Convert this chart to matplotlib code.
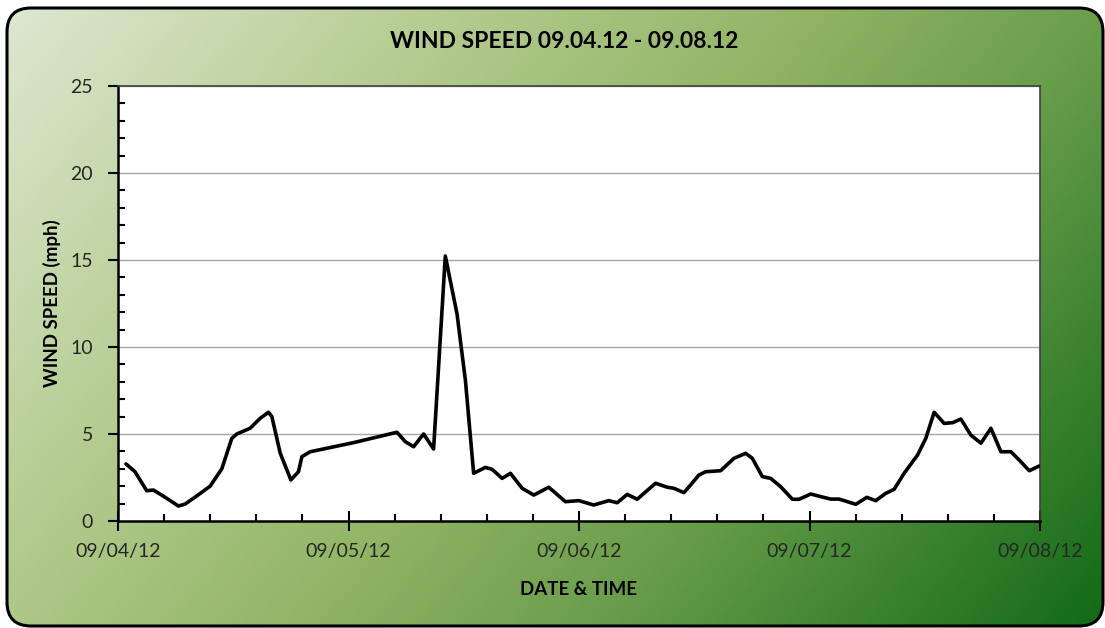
"""
Wind speed chart 09.04.12 - 09.08.12
"""

import numpy as np
import matplotlib
matplotlib.use("Agg")
from matplotlib import pyplot as plt
from matplotlib.colors import LinearSegmentedColormap
from matplotlib.patches import FancyBboxPatch
from matplotlib.ticker import MultipleLocator

# hours since 09/04/12 00:00
hours = [0.83, 1.77, 2.99, 3.68, 4.55, 6.29, 6.98, 8.20, 9.59, 10.81,
         11.85, 12.37, 13.76, 14.80, 15.67, 16.02, 16.89, 18.00, 18.79, 19.15,
         20.01, 24.5, 29.05, 29.91, 30.78, 31.82, 32.86, 34.08, 35.30, 36.17,
         37.03, 38.25, 38.95, 39.99, 40.86, 42.08, 43.29, 44.85, 46.59, 47.98,
         49.54, 51.10, 51.98, 53.02, 54.06, 55.97, 57.19, 57.88, 58.92, 59.62,
         60.48, 61.18, 62.75, 64.13, 65.35, 66.05, 67.09, 67.96, 69.00, 70.22,
         70.91, 72.13, 73.17, 74.21, 75.08, 76.82, 77.96, 78.90, 79.94, 80.81,
         81.85, 83.25, 84.11, 84.98, 86.02, 86.90, 87.76, 88.80, 89.85, 90.89,
         91.93, 92.97, 93.84, 94.88, 95.92]
speed = [3.28, 2.83, 1.74, 1.78, 1.49, 0.86, 0.97, 1.44, 2.00, 3.00,
         4.75, 5.00, 5.33, 5.90, 6.25, 6.00, 3.90, 2.36, 2.83, 3.70,
         3.98, 4.50, 5.10, 4.56, 4.27, 5.00, 4.14, 15.23, 11.90, 8.10,
         2.74, 3.08, 2.97, 2.45, 2.74, 1.88, 1.49, 1.94, 1.11, 1.17,
         0.92, 1.17, 1.05, 1.53, 1.25, 2.17, 1.94, 1.88, 1.63, 2.07,
         2.64, 2.83, 2.89, 3.60, 3.89, 3.60, 2.55, 2.45, 1.97, 1.25,
         1.25, 1.55, 1.40, 1.26, 1.26, 0.96, 1.36, 1.17, 1.59, 1.82,
         2.74, 3.79, 4.75, 6.25, 5.61, 5.65, 5.86, 4.94, 4.47, 5.33,
         3.98, 3.98, 3.50, 2.89, 3.16]

day_ticks = [0, 24, 48, 72, 96]
day_labels = ["09/04/12", "09/05/12", "09/06/12", "09/07/12", "09/08/12"]

W, H = 1105, 628
fig = plt.figure(figsize=(W / 100, H / 100), dpi=100)
fig.patch.set_facecolor("white")

# 背景：渐变 + 圆角边框
bg = fig.add_axes([0, 0, 1, 1])
bg.set_xlim(0, W)
bg.set_ylim(H, 0)
bg.axis("off")
xx, yy = np.meshgrid(np.linspace(0, 1, 400), np.linspace(0, 1, 230))
t = 0.68 * xx + 0.32 * yy
cmap = LinearSegmentedColormap.from_list(
    "g", [(0, "#dee9d2"), (0.3, "#b1ca8c"), (0.5, "#93b566"),
          (0.7, "#669c49"), (0.85, "#3c8230"), (1.0, "#126a16")])
img = bg.imshow(t, cmap=cmap, extent=[0, W, H, 0], aspect="auto", zorder=0)
box = FancyBboxPatch((7, 8), 1096, 618, boxstyle="round,pad=0,rounding_size=24",
                     facecolor="none", edgecolor="black", lw=2.2, zorder=2)
bg.add_patch(box)
img.set_clip_path(box)

ax = fig.add_axes([118 / W, 1 - 521 / H, 922 / W, 435 / H])
ax.set_facecolor("white")
ax.plot(hours, speed, color="black", lw=2.6, solid_joinstyle="round",
        solid_capstyle="round", zorder=3)

ax.set_xlim(0, 96)
ax.set_ylim(0, 25)
ax.set_xticks(day_ticks)
ax.set_xticklabels(day_labels)
ax.xaxis.set_minor_locator(MultipleLocator(4.8))
ax.yaxis.set_major_locator(MultipleLocator(5))
ax.yaxis.set_minor_locator(MultipleLocator(1))
ax.grid(axis="y", which="major", color="#a6a6a6", lw=1)
ax.set_axisbelow(True)

font = "Lato"
ax.tick_params(axis="y", which="major", direction="out", length=7, width=1.5,
               pad=11, labelsize=14, labelcolor="#262626")
ax.tick_params(axis="y", which="minor", direction="in", length=5, width=1.5)
ax.tick_params(axis="x", which="major", direction="inout", length=14, width=1.5,
               pad=9, labelsize=14, labelcolor="#262626")
ax.tick_params(axis="x", which="minor", direction="in", length=5, width=1.5)
for lab in ax.get_xticklabels() + ax.get_yticklabels():
    lab.set_family(font)

for s in ["left", "bottom"]:
    ax.spines[s].set_linewidth(1.8)
    ax.spines[s].set_color("black")
for s in ["top", "right"]:
    ax.spines[s].set_linewidth(1.2)
    ax.spines[s].set_color("#404040")

ax.set_ylabel("WIND SPEED (mph)", family=font, fontweight="bold", fontsize=13.5,
              labelpad=7)
ax.set_xlabel("DATE & TIME", family=font, fontweight="bold", fontsize=13.5,
              labelpad=15)
fig.text(564 / W, 1 - 42 / H, "WIND SPEED 09.04.12 - 09.08.12", family=font,
         fontweight="bold", fontsize=16.5, ha="center", va="center")

fig.savefig("out.png", dpi=100)
